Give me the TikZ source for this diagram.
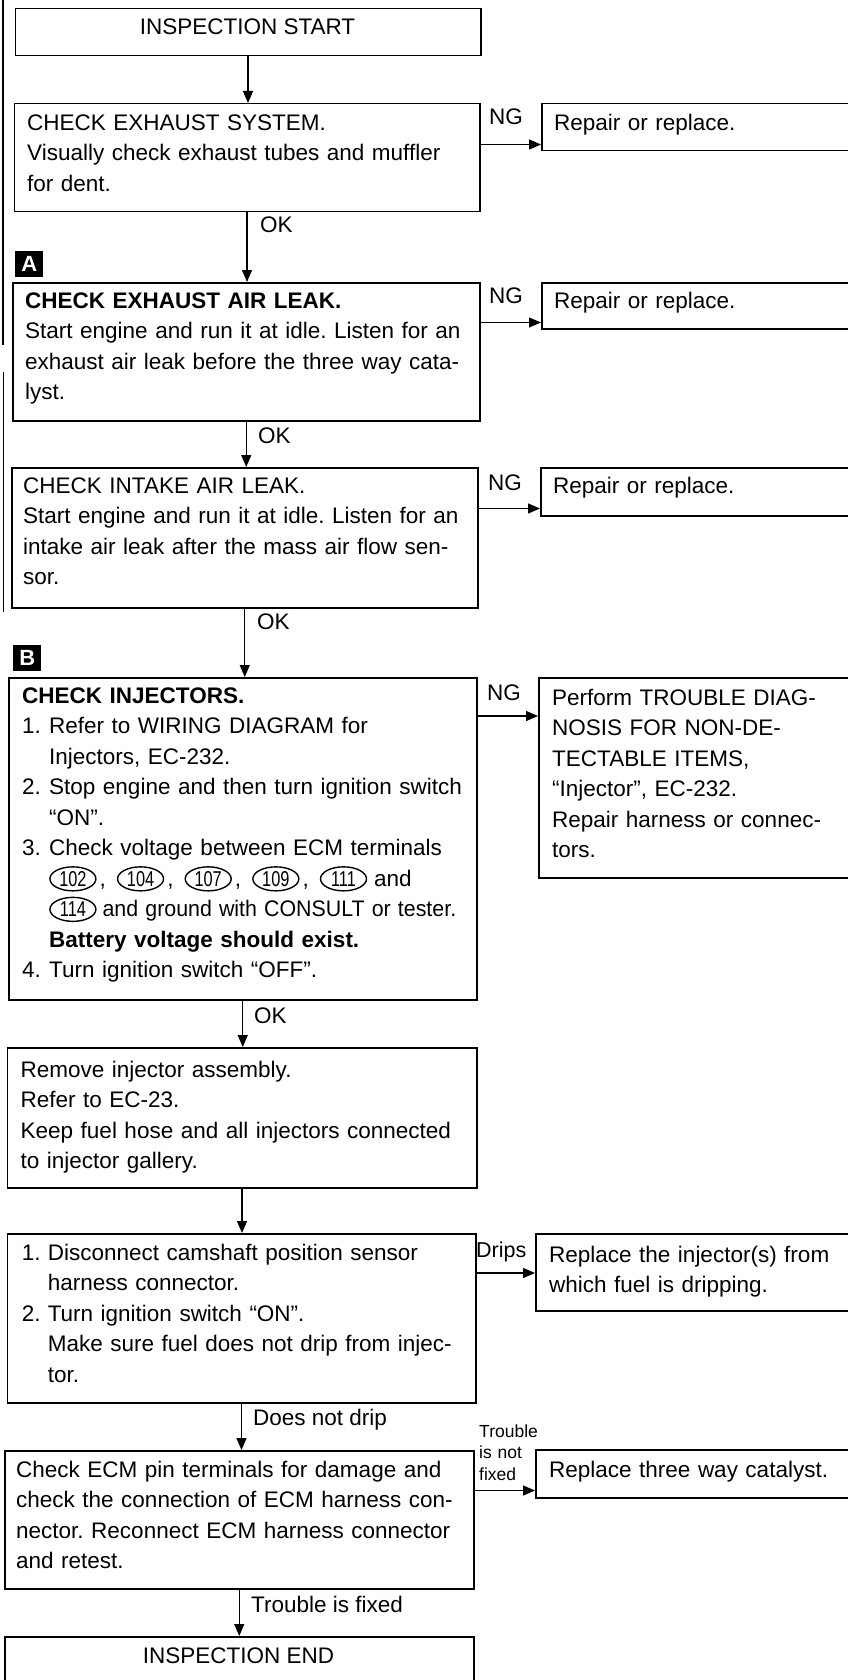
\documentclass[tikz,border=0pt]{standalone}
\usepackage{fontspec}
\usepackage{graphicx}
\setmainfont{Liberation Sans}
\usetikzlibrary{arrows.meta,shapes.geometric,calc}

% circled ECM terminal number, set inline on the text baseline
\newcommand{\termno}[1]{\tikz[baseline=(tn.base)]\node[draw,ellipse,line width=1.4pt,inner sep=0pt,minimum width=46pt,minimum height=24pt,font=\fontsize{21.5}{24}\selectfont](tn){\scalebox{0.76}[1]{#1}};}

\begin{document}
\frenchspacing
\begin{tikzpicture}[x=1pt,y=-1pt,
  boxframe/.style={draw,line width=1.5pt,rectangle,anchor=north west,inner sep=0pt},
  boxtext/.style={anchor=north west,inner sep=0pt,align=left,text width=#1,
    font=\fontsize{22.5}{30.5}\selectfont},
  boxtext/.default=470pt,
  lbl/.style={anchor=base west,inner sep=0pt,font=\fontsize{22.5}{27}\selectfont},
  smalllbl/.style={anchor=north west,inner sep=0pt,align=left,text width=80pt,
    font=\fontsize{17.5}{21.5}\selectfont},
  flowarrow/.style={line width=1.3pt,-{Triangle[length=12pt,width=10pt]}},
  markbox/.style={fill=black,text=white,anchor=north west,inner sep=0pt,
    minimum width=28pt,minimum height=26pt,font=\fontsize{22}{22}\selectfont\bfseries},
  title/.style={anchor=base,inner sep=0pt,font=\fontsize{22.5}{27}\selectfont},
]
\useasboundingbox (0,0) rectangle (848,1680);
\clip (0,0) rectangle (848,1680);

% page edge rule on the left
\draw[line width=1.5pt] (3,0) -- (3,345);
\draw[line width=1pt] (3,372) -- (3,612);

% ---------- frames ----------
\node[boxframe,minimum width=465.5pt,minimum height=47pt]  (start)  at (14.5,8)   {};
\node[boxframe,minimum width=465.5pt,minimum height=108pt] (exh)    at (13.5,103) {};
\node[boxframe,minimum width=340pt,minimum height=47pt]    (rep1)   at (541,103)  {};
\node[boxframe,minimum width=467pt,minimum height=138pt]   (leak)   at (12,282)   {};
\node[boxframe,minimum width=340pt,minimum height=46pt]    (rep2)   at (541,282)  {};
\node[boxframe,minimum width=466pt,minimum height=140pt]   (intake) at (11,467)   {};
\node[boxframe,minimum width=340pt,minimum height=48pt]    (rep3)   at (540,467)  {};
\node[boxframe,minimum width=468pt,minimum height=322pt]   (inj)    at (8,677)    {};
\node[boxframe,minimum width=340pt,minimum height=200pt]   (perf)   at (538,677)  {};
\node[boxframe,minimum width=469.5pt,minimum height=140pt] (remove) at (6.5,1047) {};
\node[boxframe,minimum width=468.5pt,minimum height=169pt] (disc)   at (6.5,1233) {};
\node[boxframe,minimum width=340pt,minimum height=77pt]    (drip)   at (535,1233) {};
\node[boxframe,minimum width=469pt,minimum height=138pt]   (ecm)    at (4,1450)   {};
\node[boxframe,minimum width=340pt,minimum height=48pt]    (cat)    at (535,1449) {};
\node[boxframe,minimum width=469pt,minimum height=80pt]    (finish) at (4,1636)   {};

% step markers
\node[markbox] (markA) at (15,251) {A};
\node[markbox] (markB) at (13,645) {B};

% ---------- texts ----------
\node[title] (start-t) at (247.5,35) {INSPECTION START};

\node[boxtext] (exh-t) at (27,108.7) {\strut CHECK EXHAUST SYSTEM.\\
Visually check exhaust tubes and muffler\\
for dent.};
\node[boxtext=320pt] (rep1-t) at (554,108.7) {\strut Repair or replace.};

\node[boxtext] (leak-t) at (25,286.7) {\strut\textbf{CHECK EXHAUST AIR LEAK.}\\
Start engine and run it at idle. Listen for an\\
exhaust air leak before the three way cata-\\
lyst.};
\node[boxtext=320pt] (rep2-t) at (554,286.7) {\strut Repair or replace.};

\node[boxtext] (intake-t) at (23,471.7) {\strut CHECK INTAKE AIR LEAK.\\
Start engine and run it at idle. Listen for an\\
intake air leak after the mass air flow sen-\\
sor.};
\node[boxtext=320pt] (rep3-t) at (553,471.7) {\strut Repair or replace.};

\node[boxtext] (inj-t) at (22,681.7) {\strut\textbf{CHECK INJECTORS.}\\
\makebox[27pt][l]{1.}Refer to WIRING DIAGRAM for\\
\hspace*{27pt}Injectors, EC-232.\\
\makebox[27pt][l]{2.}Stop engine and then turn ignition switch\\
\hspace*{27pt}“ON”.\\
\makebox[27pt][l]{3.}Check voltage between ECM terminals\\
\hspace*{27pt}\termno{102}\kern3pt,\kern11pt\termno{104}\kern3pt,\kern11pt\termno{107}\kern3pt,\kern11pt\termno{109}\kern3pt,\kern11pt\termno{111}\kern7pt and\\
\hspace*{27pt}\termno{114}\kern6pt \scalebox{0.95}[1]{and ground with CONSULT or tester.}\\
\hspace*{27pt}\textbf{Battery voltage should exist.}\\
\makebox[27pt][l]{4.}Turn ignition switch “OFF”.};
\node[boxtext=320pt] (perf-t) at (552,683.7) {\strut Perform TROUBLE DIAG-\\
NOSIS FOR NON-DE-\\
TECTABLE ITEMS,\\
“Injector”, EC-232.\\
Repair harness or connec-\\
tors.};

\node[boxtext] (remove-t) at (20.5,1055.7) {\strut Remove injector assembly.\\
Refer to EC-23.\\
Keep fuel hose and all injectors connected\\
to injector gallery.};

\node[boxtext] (disc-t) at (21.6,1238.7) {\strut\makebox[26pt][l]{1.}Disconnect camshaft position sensor\\
\hspace*{26pt}harness connector.\\
\makebox[26pt][l]{2.}Turn ignition switch “ON”.\\
\hspace*{26pt}Make sure fuel does not drip from injec-\\
\hspace*{26pt}tor.};
\node[boxtext=320pt] (drip-t) at (549,1240.7) {\strut Replace the injector(s) from\\
which fuel is dripping.};

\node[boxtext] (ecm-t) at (16,1455.7) {\strut Check ECM pin terminals for damage and\\
check the connection of ECM harness con-\\
nector. Reconnect ECM harness connector\\
and retest.};
\node[boxtext=320pt] (cat-t) at (549,1455.7) {\strut Replace three way catalyst.};

\node[title] (finish-t) at (238.5,1663) {INSPECTION END};

% ---------- connectors ----------
\draw[flowarrow] (start.south)  -- (start.south  |- exh.north);
\draw[flowarrow] (exh.south)    -- (exh.south    |- leak.north);
\draw[flowarrow] (leak.south)   -- (leak.south   |- intake.north);
\draw[flowarrow] (intake.south) -- (intake.south |- inj.north);
\draw[flowarrow] (inj.south)    -- (inj.south    |- remove.north);
\draw[flowarrow] (remove.south) -- (remove.south |- disc.north);
\draw[flowarrow] (disc.south)   -- (disc.south   |- ecm.north);
\draw[flowarrow] (ecm.south)    -- (ecm.south    |- finish.north);

\draw[flowarrow] ($(exh.east |- rep1.south)+(0,-7)$)    -- ($(rep1.south west)+(0,-7)$);
\draw[flowarrow] ($(leak.east |- rep2.south)+(0,-7)$)   -- ($(rep2.south west)+(0,-7)$);
\draw[flowarrow] ($(intake.east |- rep3.south)+(0,-8)$) -- ($(rep3.south west)+(0,-8)$);
\draw[flowarrow] ($(inj.east |- perf.north)+(0,39)$)    -- ($(perf.north west)+(0,39)$);
\draw[flowarrow] ($(disc.east |- drip.north)+(0,40)$)   -- ($(drip.north west)+(0,40)$);
\draw[flowarrow] ($(ecm.east |- cat.south)+(0,-8)$)     -- ($(cat.south west)+(0,-8)$);

% ---------- connector labels ----------
\node[lbl] (ng1) at (489,125) {NG};
\node[lbl] (ng2) at (489,303) {NG};
\node[lbl] (ng3) at (488,490) {NG};
\node[lbl] (ng4) at (487,700) {NG};
\node[lbl] (ok1) at (260,233) {OK};
\node[lbl] (ok2) at (258,443) {OK};
\node[lbl] (ok3) at (257,629) {OK};
\node[lbl] (ok4) at (254,1023) {OK};
\node[lbl,font=\fontsize{21.5}{26}\selectfont] (drips) at (476,1257) {Drips};
\node[lbl] (nodrip) at (253,1425) {Does not drip};
\node[lbl] (fixed) at (251,1612) {Trouble is fixed};
\node[smalllbl] (notfixed) at (479,1422) {\strut Trouble\\is not\\fixed};
\end{tikzpicture}
\end{document}
